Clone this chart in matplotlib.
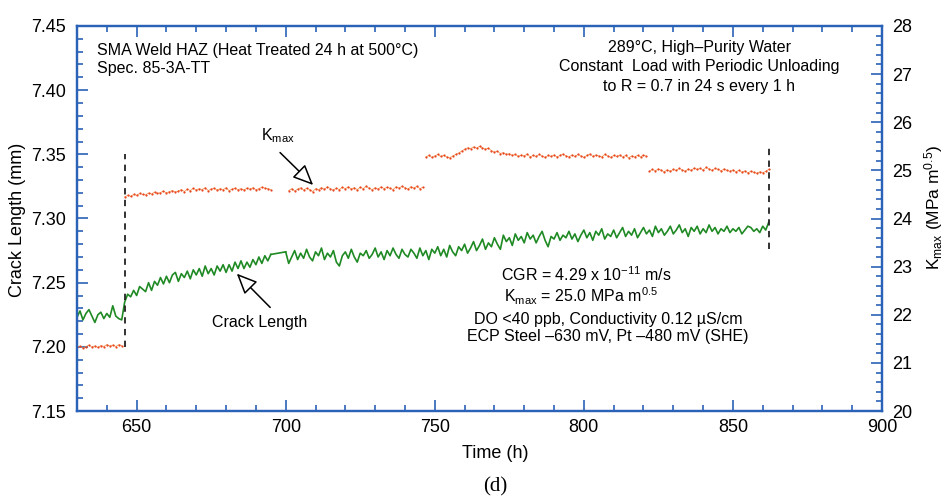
import matplotlib.pyplot as plt
from matplotlib.ticker import MultipleLocator
import numpy as np

plt.rcParams['font.family'] = ['Liberation Sans', 'DejaVu Sans']
plt.rcParams['mathtext.fontset'] = 'custom'
plt.rcParams['mathtext.rm'] = 'Liberation Sans'
plt.rcParams['mathtext.it'] = 'Liberation Sans:italic'
plt.rcParams['mathtext.default'] = 'regular'

# crack length (mm), one reading per hour
crack_h1 = np.arange(630, 696)
crack_1 = [
    7.223, 7.228, 7.221, 7.226, 7.229, 7.224, 7.219, 7.225, 7.227, 7.222,
    7.226, 7.223, 7.232, 7.224, 7.222, 7.221,
    7.235, 7.241, 7.239, 7.244, 7.240, 7.247, 7.245, 7.243, 7.250, 7.244,
    7.251, 7.248, 7.254, 7.249, 7.255, 7.250, 7.256, 7.258, 7.251, 7.257,
    7.254, 7.259, 7.253, 7.260, 7.256, 7.261, 7.255, 7.263, 7.257, 7.261,
    7.256, 7.263, 7.259, 7.264, 7.258, 7.264, 7.259, 7.266, 7.261, 7.267,
    7.261, 7.266, 7.262, 7.268, 7.264, 7.270, 7.265, 7.271, 7.267, 7.272]
crack_h2 = np.arange(700, 863)
crack_2 = [
    7.274, 7.265, 7.270, 7.275, 7.268, 7.273, 7.269, 7.276, 7.270, 7.267,
    7.274, 7.271, 7.277, 7.268, 7.273, 7.270, 7.275, 7.266, 7.263, 7.271,
    7.274, 7.269, 7.276, 7.270, 7.266, 7.273, 7.271, 7.275, 7.269, 7.272,
    7.277, 7.270, 7.274, 7.268, 7.275, 7.271, 7.277, 7.272, 7.269, 7.276,
    7.272, 7.270, 7.276, 7.273, 7.269, 7.277, 7.271, 7.275, 7.268, 7.276,
    7.273, 7.278, 7.271, 7.276, 7.270, 7.279, 7.274, 7.271, 7.278, 7.275,
    7.280, 7.273, 7.277, 7.282, 7.275, 7.279, 7.284, 7.276, 7.281, 7.278,
    7.285, 7.280, 7.276, 7.287, 7.282, 7.285, 7.279, 7.288, 7.283, 7.286,
    7.281, 7.289, 7.284, 7.287, 7.281, 7.286, 7.290, 7.283, 7.278, 7.286,
    7.284, 7.289, 7.283, 7.287, 7.285, 7.290, 7.284, 7.288, 7.282, 7.287,
    7.291, 7.285, 7.289, 7.283, 7.290, 7.287, 7.292, 7.284, 7.288, 7.286,
    7.291, 7.285, 7.289, 7.293, 7.286, 7.290, 7.287, 7.292, 7.285, 7.289,
    7.293, 7.288, 7.291, 7.286, 7.294, 7.289, 7.292, 7.287, 7.290, 7.294,
    7.288, 7.291, 7.295, 7.289, 7.292, 7.286, 7.293, 7.290, 7.294, 7.288,
    7.292, 7.289, 7.295, 7.290, 7.293, 7.288, 7.292, 7.290, 7.294, 7.289,
    7.292, 7.290, 7.293, 7.288, 7.291, 7.294, 7.293, 7.290, 7.292, 7.289,
    7.294, 7.291, 7.297]

# Kmax (MPa m^0.5), hourly, one array per load step
kmax_h1 = np.arange(630, 646)
kmax_1 = [21.32, 21.35, 21.31, 21.34, 21.37, 21.33, 21.35, 21.32, 21.36, 21.34,
          21.38, 21.35, 21.37, 21.34, 21.38, 21.36]
kmax_h2 = np.arange(646, 696)
kmax_2 = [
    24.45, 24.48, 24.46, 24.50, 24.48, 24.52, 24.50, 24.49, 24.53, 24.51,
    24.55, 24.52, 24.54, 24.57, 24.53, 24.56, 24.58, 24.55, 24.57, 24.60,
    24.56, 24.61, 24.58, 24.63, 24.59, 24.62, 24.60, 24.64, 24.58, 24.61,
    24.63, 24.59, 24.62, 24.60, 24.64, 24.58, 24.61, 24.63, 24.60, 24.62,
    24.59, 24.63, 24.61, 24.64, 24.60, 24.62, 24.65, 24.63, 24.62, 24.60]
kmax_h3 = np.arange(701, 747)
kmax_3 = [
    24.58, 24.62, 24.57, 24.61, 24.64, 24.59, 24.63, 24.60, 24.56, 24.62,
    24.60, 24.64, 24.61, 24.66, 24.62, 24.59, 24.63, 24.60, 24.65, 24.62,
    24.66, 24.61, 24.64, 24.60, 24.65, 24.62, 24.67, 24.63, 24.60, 24.64,
    24.61, 24.66, 24.62, 24.65, 24.63, 24.60, 24.66, 24.63, 24.67, 24.64,
    24.61, 24.66, 24.63, 24.67, 24.62, 24.65]
kmax_h4 = np.arange(747, 822)
kmax_4 = [
    25.28, 25.31, 25.27, 25.30, 25.33, 25.29, 25.31, 25.28, 25.26, 25.30,
    25.33, 25.36, 25.40, 25.44, 25.47, 25.45, 25.49, 25.46, 25.50, 25.47,
    25.44, 25.46, 25.41, 25.38, 25.40, 25.35, 25.37, 25.33, 25.35, 25.31,
    25.33, 25.29, 25.32, 25.30, 25.34, 25.28, 25.31, 25.29, 25.33, 25.30,
    25.27, 25.31, 25.29, 25.32, 25.28, 25.31, 25.34, 25.30, 25.28, 25.32,
    25.29, 25.33, 25.30, 25.27, 25.31, 25.34, 25.29, 25.32, 25.30, 25.28,
    25.33, 25.30, 25.27, 25.31, 25.29, 25.32, 25.28, 25.31, 25.26, 25.30,
    25.28, 25.31, 25.28, 25.32, 25.29]
kmax_h5 = np.arange(822, 863)
kmax_5 = [
    24.98, 25.02, 24.99, 25.03, 25.00, 24.97, 25.01, 24.98,
    25.02, 25.00, 25.04, 25.01, 24.98, 25.03, 25.00, 25.05, 25.02, 25.04,
    25.01, 25.06, 25.03, 25.00, 25.04, 25.02, 24.99, 25.03, 25.00, 24.98,
    25.01, 24.97, 25.00, 24.96, 24.99, 24.95, 24.98, 24.96, 24.94, 24.97,
    24.95, 24.98, 25.02]

# start/end of the test interval (vertical dashed markers)
mark_h = [646, 862]
mark_lo = [7.1995, 7.276]
mark_hi = [7.3505, 7.356]

blue = '#2a62b8'
green = '#1f8a24'
red = '#e8461e'

fig = plt.figure(figsize=(9.49, 5.04), dpi=100)
ax = fig.add_axes([77/949, 1-411/504, 805/949, 385/504])
ax2 = ax.twinx()

ax.plot(crack_h1, crack_1, color=green, lw=1.2)
ax.plot(crack_h2, crack_2, color=green, lw=1.2)
ax.plot([crack_h1[-1], crack_h2[0]], [crack_1[-1], crack_2[0]], color=green, lw=1.2)

for h, lo, hi in zip(mark_h, mark_lo, mark_hi):
    ax.plot([h, h], [lo, hi], color='#222222', lw=1.3, ls=(0, (3.5, 3)))

for hh, kk in [(kmax_h1, kmax_1), (kmax_h2, kmax_2), (kmax_h3, kmax_3),
               (kmax_h4, kmax_4), (kmax_h5, kmax_5)]:
    ax2.plot(hh, kk, color='#f28a3a', lw=0.6, alpha=0.8)
    ax2.plot(hh, kk, ls='none', marker='o', ms=1.6, mew=0, color=red)

ax.set_xlim(630, 900)
ax.set_ylim(7.15, 7.45)
ax2.set_ylim(20, 28)

ax.xaxis.set_major_locator(MultipleLocator(50))
ax.xaxis.set_minor_locator(MultipleLocator(10))
ax.yaxis.set_major_locator(MultipleLocator(0.05))
ax.yaxis.set_minor_locator(MultipleLocator(0.01))
ax2.yaxis.set_major_locator(MultipleLocator(1))
ax2.yaxis.set_minor_locator(MultipleLocator(0.2))
ax.yaxis.set_major_formatter(plt.FormatStrFormatter('%.2f'))

for a in (ax, ax2):
    for s in a.spines.values():
        s.set_color(blue)
        s.set_linewidth(1.6)
ax.tick_params(which='both', direction='in', color=blue, width=1.2,
               top=True, right=False, labelsize=13)
ax.tick_params(which='major', length=8)
ax.tick_params(which='minor', length=4.5)
ax.tick_params(axis='y', pad=8)
ax.tick_params(axis='x', pad=6)
ax2.tick_params(which='both', direction='in', color=blue, width=1.2, labelsize=13, pad=7)
ax2.tick_params(which='major', length=8)
ax2.tick_params(which='minor', length=4.5)

fig.text(18/949, 1-220/504, 'Crack Length (mm)', rotation=90, ha='center', va='center', fontsize=13)
fig.text(934/949, 1-207/504, r'K$_{max}$ (MPa m$^{0.5}$)', rotation=90, ha='center', va='center', fontsize=12.5)
fig.text(495/949, 1-453/504, 'Time (h)', ha='center', va='center', fontsize=13)
fig.text(495/949, 1-487/504, '(d)', ha='center', va='center', fontsize=15, family='Liberation Serif')

fs = 11.5
ax.text(636.7, 7.4312, 'SMA Weld HAZ (Heat Treated 24 h at 500°C)', ha='left', va='center', fontsize=fs)
ax.text(636.7, 7.4171, 'Spec. 85-3A-TT', ha='left', va='center', fontsize=fs)
ax.text(838.7, 7.4332, '289°C, High–Purity Water', ha='center', va='center', fontsize=fs)
ax.text(838.7, 7.4184, 'Constant  Load with Periodic Unloading', ha='center', va='center', fontsize=fs)
ax.text(838.7, 7.4028, 'to R = 0.7 in 24 s every 1 h', ha='center', va='center', fontsize=fs)

ax.text(800.8, 7.2566, r'CGR = 4.29 x 10$^{-11}$ m/s', ha='center', va='center', fontsize=fs)
ax.text(799.1, 7.2395, r'K$_{max}$ = 25.0 MPa m$^{0.5}$', ha='center', va='center', fontsize=fs)
ax.text(808.2, 7.2213, 'DO <40 ppb, Conductivity 0.12 µS/cm', ha='center', va='center', fontsize=fs)
ax.text(807.9, 7.2081, 'ECP Steel –630 mV, Pt –480 mV (SHE)', ha='center', va='center', fontsize=fs)

arrow = dict(arrowstyle='-|>,head_length=0.9,head_width=0.4', fc='white', ec='black',
             lw=1.1, shrinkA=0, shrinkB=0, mutation_scale=14)
ax.text(697.4, 7.3647, r'K$_{max}$', ha='center', va='center', fontsize=fs)
ax.annotate('', xy=(709.2, 7.3261), xytext=(698.1, 7.3514), arrowprops=arrow)
ax.text(691.4, 7.2191, 'Crack Length', ha='center', va='center', fontsize=fs)
ax.annotate('', xy=(683.6, 7.2570), xytext=(694.8, 7.2307), arrowprops=arrow)

fig.savefig('out.png', dpi=100)
